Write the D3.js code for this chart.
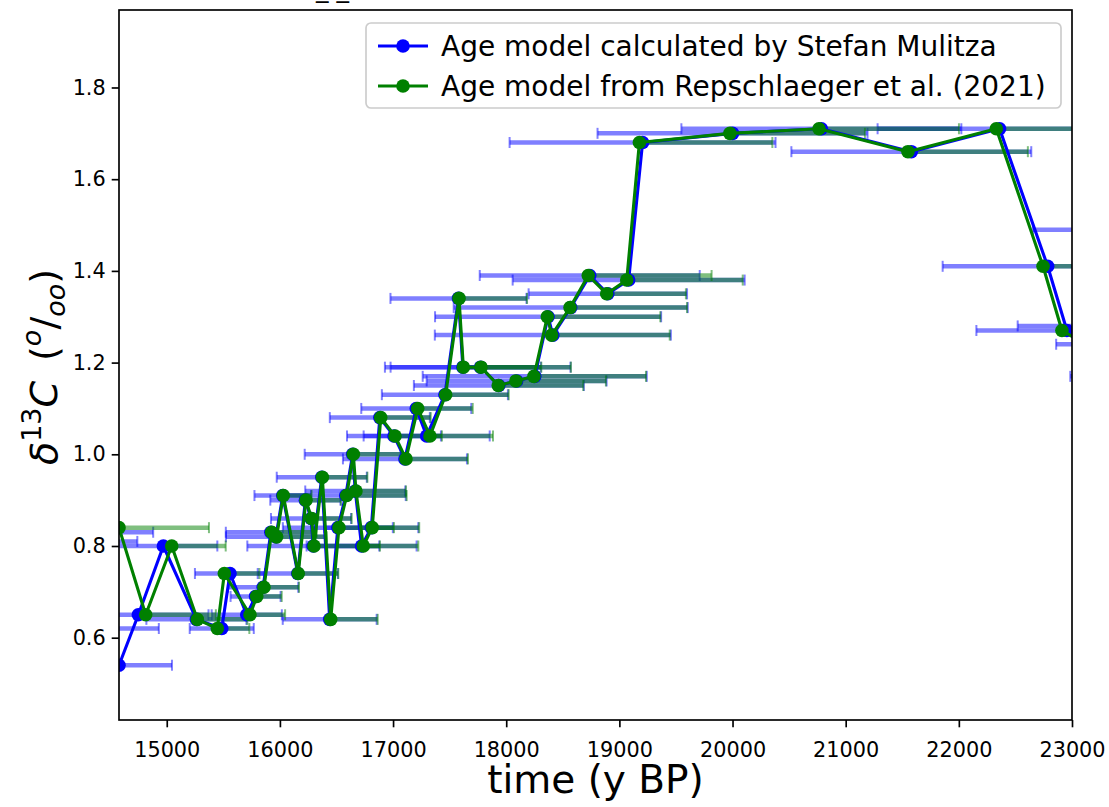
<!DOCTYPE html>
<html>
<head>
<meta charset="utf-8">
<script src="https://cdn.jsdelivr.net/npm/d3@7"></script>
<style>
  body { margin: 0; background: #fff; }
  svg { display: block; font-family: "DejaVu Sans", sans-serif; }
</style>
</head>
<body>
<svg id="chart" width="1109" height="807"></svg>
<script>
// age model by Stefan Mulitza (blue): ages, d13C, 1-sigma age error
const ageMulitza = [14400, 14450, 14300, 14578,
  14749, 14970, 15262, 15486, 15559, 15707, 15785, 15852, 15920, 15965,
  16025, 16158, 16225, 16275, 16295, 16370, 16440, 16512, 16582, 16643,
  16666, 16722, 16808, 16883, 17008, 17105, 17205, 17297, 17458, 17578,
  17617, 17773, 17935, 18092, 18252, 18370, 18412, 18570, 18738, 18898,
  19082, 19205, 20000, 20785, 21580, 22360, 22785, 22955,
  23150, 23250, 23400, 23200];
const d13cMulitza = [0.83, 0.81, 0.62, 0.54,
  0.65, 0.80, 0.64, 0.62, 0.74, 0.65, 0.69, 0.71, 0.83, 0.82,
  0.91, 0.74, 0.90, 0.86, 0.80, 0.95, 0.64, 0.84, 0.91, 1.00,
  0.92, 0.80, 0.84, 1.08, 1.04, 0.99, 1.10, 1.04, 1.13, 1.34,
  1.19, 1.19, 1.15, 1.16, 1.17, 1.30, 1.26, 1.32, 1.39, 1.35,
  1.38, 1.68, 1.70, 1.71, 1.66, 1.71, 1.41, 1.27,
  1.24, 1.28, 1.49, 1.17];
const errMulitza = [480, 290, 630, 468,
  620, 477, 442, 283, 310, 310, 221, 310, 398, 442,
  250, 354, 310, 354, 583, 398, 415, 486, 530, 424,
  442, 486, 415, 442, 415, 548, 486, 557, 557, 601,
  689, 795, 751, 795, 990, 999, 1043, 1034, 972, 700,
  1025, 1175, 1193, 1237, 1060, 1078, 928, 800,
  290, 730, 745, 215];

// age model from Repschlaeger et al. (2021) (green)
const ageRepsch = [14578,
  14814, 15044, 15270, 15447, 15509, 15736, 15795, 15859, 15927, 15971,
  16030, 16162, 16230, 16280, 16301, 16375, 16449, 16522, 16590, 16649,
  16672, 16737, 16816, 16891, 17017, 17114, 17218, 17326, 17465, 17583,
  17621, 17777, 17930, 18086, 18245, 18363, 18402, 18564, 18725, 18888,
  19065, 19177, 19977, 20764, 21550, 22331, 22744, 22911,
  23120, 23230, 23380, 23180];
const d13cRepsch = [0.84,
  0.65, 0.80, 0.64, 0.62, 0.74, 0.65, 0.69, 0.71, 0.83, 0.82,
  0.91, 0.74, 0.90, 0.86, 0.80, 0.95, 0.64, 0.84, 0.91, 1.00,
  0.92, 0.80, 0.84, 1.08, 1.04, 0.99, 1.10, 1.04, 1.13, 1.34,
  1.19, 1.19, 1.15, 1.16, 1.17, 1.30, 1.26, 1.32, 1.39, 1.35,
  1.38, 1.68, 1.70, 1.71, 1.66, 1.71, 1.41, 1.27,
  1.24, 1.28, 1.49, 1.17];
const errRepsch = [795,
  620, 477, 442, 283, 310, 310, 221, 310, 398, 442,
  250, 354, 310, 354, 583, 398, 415, 486, 530, 424,
  442, 486, 415, 442, 415, 548, 486, 557, 557, 601,
  689, 795, 751, 795, 990, 999, 1043, 1034, 1090, 700,
  1025, 1175, 1193, 1237, 1060, 1078, 928, 857,
  300, 700, 700, 200];

const xTicks = [15000, 16000, 17000, 18000, 19000, 20000, 21000, 22000, 23000];
const yTicks = [0.6, 0.8, 1.0, 1.2, 1.4, 1.6, 1.8];
const seriesNames = ["Age model calculated by Stefan Mulitza",
                     "Age model from Repschlaeger et al. (2021)"];

const svg = d3.select("#chart");
const margin = { top: 10, right: 37, bottom: 87, left: 119 };
const width = 1109, height = 807;
const innerW = width - margin.left - margin.right;
const innerH = height - margin.top - margin.bottom;

const x = d3.scaleLinear().domain([14578, 23000]).range([0, innerW]);
const y = d3.scaleLinear().domain([0.4205, 1.969]).range([innerH, 0]);

const g = svg.append("g").attr("transform", `translate(${margin.left},${margin.top})`);

svg.append("defs").append("clipPath").attr("id", "plotclip")
  .append("rect").attr("width", innerW).attr("height", innerH);

// clipped title, only underscores poke in at the top
svg.append("text")
  .attr("x", 316).attr("y", -3)
  .attr("font-size", 25)
  .attr("xml:space", "preserve")
  .text("_ _");

const plot = g.append("g").attr("clip-path", "url(#plotclip)");

function makeRows(ages, vals, errs) {
  return ages.map((a, i) => ({ age: a, v: vals[i], e: errs[i] }));
}
const blueRows = makeRows(ageMulitza, d13cMulitza, errMulitza);
const greenRows = makeRows(ageRepsch, d13cRepsch, errRepsch);

function drawErrBars(rows, color, symmetric) {
  const eg = plot.append("g").attr("stroke", color).attr("stroke-opacity", 0.5);
  rows.forEach((d) => {
    const lo = symmetric ? d.age - d.e : d.age;
    const hi = d.age + d.e;
    const yy = y(d.v);
    eg.append("line").attr("x1", x(lo)).attr("x2", x(hi))
      .attr("y1", yy).attr("y2", yy).attr("stroke-width", 4.5);
    [lo, hi].forEach((t) => {
      eg.append("line").attr("x1", x(t)).attr("x2", x(t))
        .attr("y1", yy - 5.5).attr("y2", yy + 5.5).attr("stroke-width", 2);
    });
  });
}

function drawSeries(rows, color) {
  const line = d3.line().x((d) => x(d.age)).y((d) => y(d.v));
  plot.append("path").datum(rows)
    .attr("d", line)
    .attr("fill", "none")
    .attr("stroke", color)
    .attr("stroke-width", 3.1)
    .attr("stroke-linejoin", "round");
  plot.append("g").selectAll("circle").data(rows).join("circle")
    .attr("cx", (d) => x(d.age))
    .attr("cy", (d) => y(d.v))
    .attr("r", 6.8)
    .attr("fill", color);
}

drawErrBars(blueRows, "#0000ff", true);
drawErrBars(greenRows, "#008000", false);
drawSeries(blueRows, "#0000ff");
drawSeries(greenRows, "#008000");

// axes
const xAxis = g.append("g")
  .attr("transform", `translate(0,${innerH})`)
  .call(d3.axisBottom(x).tickValues(xTicks).tickFormat(d3.format("d"))
    .tickSize(7.3).tickPadding(15));
const yAxis = g.append("g")
  .call(d3.axisLeft(y).tickValues(yTicks).tickFormat(d3.format(".1f"))
    .tickSize(7.3).tickPadding(6));
[xAxis, yAxis].forEach((ax) => {
  ax.select(".domain").remove();
  ax.selectAll("line").attr("stroke", "#000").attr("stroke-width", 1.67);
  ax.selectAll("text").attr("fill", "#000").attr("font-size", 20.8)
    .attr("font-family", "DejaVu Sans");
});

g.append("rect")
  .attr("width", innerW).attr("height", innerH)
  .attr("fill", "none").attr("stroke", "#000").attr("stroke-width", 1.67);

// axis labels
svg.append("text")
  .attr("x", margin.left + innerW / 2).attr("y", 793)
  .attr("text-anchor", "middle")
  .attr("font-size", 39)
  .text("time (y BP)");

const yl = svg.append("text")
  .attr("transform", "translate(57,367) rotate(-90)")
  .attr("text-anchor", "middle")
  .attr("font-size", 38);
yl.append("tspan").attr("font-style", "italic").text("δ");
yl.append("tspan").attr("font-size", 27).attr("dy", -16).text("13");
yl.append("tspan").attr("font-style", "italic").attr("dy", 16).text("C");
yl.append("tspan").attr("dx", 20).text("(");
yl.append("tspan").attr("font-size", 27).attr("font-style", "italic").attr("dy", -16).text("o");
yl.append("tspan").attr("dy", 16).text("/");
yl.append("tspan").attr("font-size", 27).attr("font-style", "italic").attr("dy", 8).text("oo");
yl.append("tspan").attr("dy", -8).text(")");

// legend
const lg = svg.append("g");
lg.append("rect")
  .attr("x", 366).attr("y", 23).attr("width", 695).attr("height", 85)
  .attr("rx", 5)
  .attr("fill", "#fff").attr("fill-opacity", 0.8)
  .attr("stroke", "#cccccc").attr("stroke-width", 1.67);
const legColors = ["#0000ff", "#008000"];
seriesNames.forEach((name, i) => {
  const ly = 46 + i * 40;
  lg.append("line").attr("x1", 378).attr("x2", 428).attr("y1", ly).attr("y2", ly)
    .attr("stroke", legColors[i]).attr("stroke-width", 3.1);
  lg.append("circle").attr("cx", 403).attr("cy", ly).attr("r", 6.8)
    .attr("fill", legColors[i]);
  lg.append("text").attr("x", 441).attr("y", ly).attr("dy", "0.35em")
    .attr("font-size", 28).text(name);
});
</script>
</body>
</html>
